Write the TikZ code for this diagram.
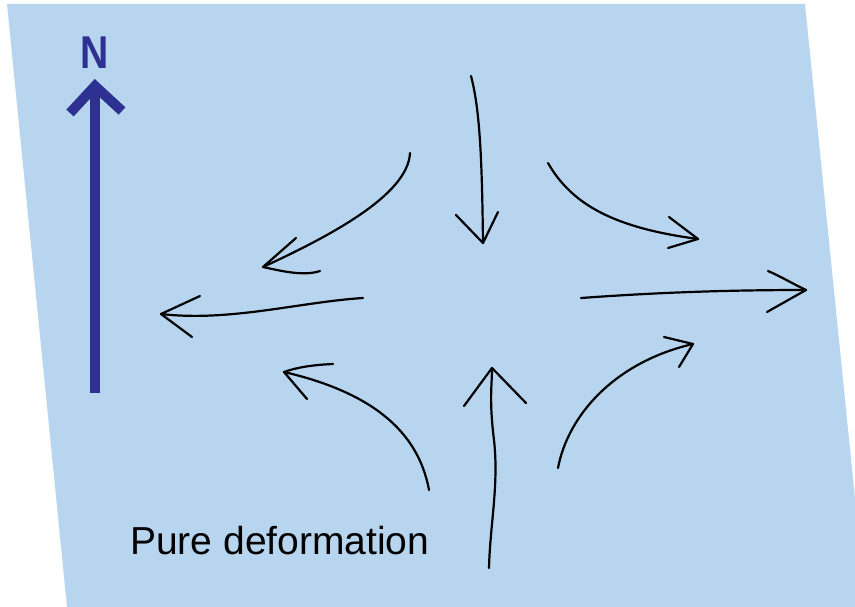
\documentclass[tikz,border=0pt]{standalone}
\usepackage{fontspec}
\setmainfont{Liberation Sans}
\definecolor{sea}{HTML}{B7D5EF}
\definecolor{navy}{HTML}{2E3192}
\tikzset{
  flow/.style={line width=2.2pt, line cap=round, line join=round, black},
  north/.style={line width=10pt, navy},
}
\begin{document}
\begin{tikzpicture}[x=1pt,y=-1pt]
\clip (0,0) rectangle (855,607);
\fill[sea] (7,4) -- (805,4) -- (866,607) -- (67,607) -- cycle;

% north arrow
\coordinate (nb) at (95,393);
\coordinate (nt) at (95,84);
\coordinate (nl) at (70,113);
\coordinate (nr) at (122,111);
\draw[north] (nb) -- (nt);
\draw[north, line join=miter] (nl) -- (95,86) -- (nr);
\node[navy, font=\bfseries\fontsize{46}{46}\selectfont, xscale=0.85] (nlab) at (95,53) {N};

% arrows: start s, tip t, wings a,b
\coordinate (s1) at (471,76);  \coordinate (t1) at (483,243);
\coordinate (a1) at (456,215); \coordinate (b1) at (498,212);
\draw[flow] (s1) .. controls (480,110) and (482,160) .. (t1);
\draw[flow] (a1) -- (t1) -- (b1);

\coordinate (s2) at (410,153); \coordinate (t2) at (263,267);
\coordinate (a2) at (296,238); \coordinate (b2) at (320,271);
\draw[flow] (s2) .. controls (408,195) and (330,236) .. (t2);
\draw[flow] (a2) -- (t2) .. controls (285,272) and (305,276) .. (b2);

\coordinate (s3) at (548,163); \coordinate (t3) at (698,239);
\coordinate (a3) at (669,217); \coordinate (b3) at (668,248);
\draw[flow] (s3) .. controls (572,205) and (615,228) .. (t3);
\draw[flow] (a3) -- (t3) -- (b3);

\coordinate (s4) at (581,298); \coordinate (t4) at (806,290);
\coordinate (a4) at (768,271); \coordinate (b4) at (767,312);
\draw[flow] (s4) .. controls (650,293) and (720,290) .. (t4);
\draw[flow] (a4) .. controls (780,276) and (795,285) .. (t4) -- (b4);

\coordinate (s5) at (363,298); \coordinate (t5) at (161,314);
\coordinate (a5) at (200,296); \coordinate (b5) at (192,337);
\draw[flow] (s5) .. controls (300,302) and (230,322) .. (t5);
\draw[flow] (a5) -- (t5) -- (b5);

\coordinate (s6) at (429,490); \coordinate (t6) at (284,372);
\coordinate (a6) at (333,364); \coordinate (b6) at (307,399);
\draw[flow] (s6) .. controls (418,430) and (370,392) .. (t6);
\draw[flow] (a6) .. controls (310,365) and (295,368) .. (t6) -- (b6);

\coordinate (s7) at (489,568); \coordinate (t7) at (492,368);
\coordinate (a7) at (464,406); \coordinate (b7) at (526,403);
\draw[flow] (s7) .. controls (490,525) and (499,485) .. (494,440) .. controls (489,400) and (492,385) .. (t7);
\draw[flow] (a7) -- (t7) -- (b7);

\coordinate (s8) at (558,468); \coordinate (t8) at (693,344);
\coordinate (a8) at (664,337); \coordinate (b8) at (679,367);
\draw[flow] (s8) .. controls (568,415) and (615,362) .. (t8);
\draw[flow] (a8) -- (t8) -- (b8);

\node[anchor=base west, inner sep=0pt, font=\fontsize{39}{39}\selectfont] (cap) at (130,554) {Pure deformation};
\end{tikzpicture}
\end{document}
